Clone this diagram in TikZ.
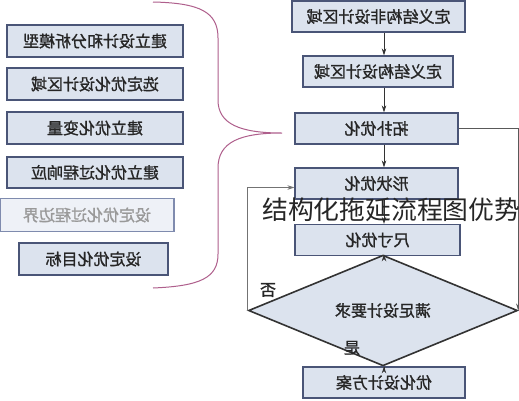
\documentclass[tikz,border=0pt]{standalone}
\usepackage{fontspec}
\usepackage{graphicx}
\newfontfamily\cjk{Noto Sans CJK SC}
\newfontfamily\cjkb[FakeBold=1.3]{Noto Sans CJK SC}
\usetikzlibrary{shapes.geometric,arrows.meta,calc}
\definecolor{boxfill}{HTML}{DCE3EE}
\definecolor{boxline}{HTML}{4A5577}
\definecolor{pale}{HTML}{EEF1F7}
\definecolor{paleline}{HTML}{7F8BAE}
\definecolor{bracec}{RGB}{175,95,140}
\definecolor{arrc}{HTML}{333333}
\newcommand{\mir}[1]{\reflectbox{#1}}
\begin{document}
\begin{tikzpicture}[x=1pt,y=-1pt,
  box/.style={draw=boxline, line width=1.2pt, fill=boxfill, minimum height=31pt,
    inner sep=0pt, font=\cjkb\fontsize{16}{16}\selectfont, text=black!85},
  palebox/.style={box, draw=paleline, fill=pale, text=black!40},
  arr/.style={draw=arrc, line width=0.9pt, -{Stealth[length=7pt,width=4.5pt]}},
  lbl/.style={font=\cjkb\fontsize{16}{16}\selectfont, text=black!85, inner sep=0pt},
  brace/.style={draw=bracec, line width=1pt}
]
\useasboundingbox (0,0) rectangle (519,400);
\fill[white] (0,0) rectangle (519,400);

% left column
\node[box, minimum width=176pt, minimum height=32pt] (l1) at (95,41) {\mir{建立设计和分析模型}};
\node[box, minimum width=176pt, minimum height=32pt] (l2) at (95,84) {\mir{选定优化设计区域}};
\node[box, minimum width=176pt, minimum height=32pt] (l3) at (95,128) {\mir{建立优化变量}};
\node[box, minimum width=176pt, minimum height=31pt] (l4) at (95,172.5) {\mir{建立优化过程响应}};
\node[palebox, minimum width=174pt, minimum height=33pt] (l5) at (87,215) {\mir{设定优化过程边界}};
\node[box, minimum width=149pt, minimum height=32pt] (l6) at (93.5,259) {\mir{设定优化目标}};

% brace
\draw[brace] (153,2) .. controls (200,3) and (218,12) .. (218,38)
  -- (218,100) .. controls (218,124) and (240,133) .. (282,133)
  .. controls (240,133) and (218,142) .. (218,168)
  -- (218,254) .. controls (218,278) and (200,286) .. (153,288);

% right column
\node[box, minimum width=173pt] (b1) at (378.5,16.5) {\mir{定义结构非设计区域}};
\node[box, minimum width=150pt] (b2) at (378,71.5) {\mir{定义结构设计区域}};
\node[box, minimum width=163pt] (b3) at (376.5,128.5) {\mir{拓扑优化}};
\node[box, minimum width=163pt] (b4) at (376.5,183.5) {\mir{形状优化}};
\node[box, minimum width=165pt] (b5) at (377.5,240) {\mir{尺寸优化}};
\node[box, shape=diamond, line width=1.6pt, draw=black!80, minimum width=269pt, minimum height=63pt] (d) at (383,310.5) {\mir{满足设计要求}};
\node[box, minimum width=162pt] (b6) at (384,382.5) {\mir{优化设计方案}};

\coordinate (ax) at (384,0);
\draw[arr] (b1.south -| ax) -- (b2.north -| ax);
\draw[arr] (b2.south -| ax) -- (b3.north -| ax);
\draw[arr] (b3.south -| ax) -- (b4.north -| ax);
\draw[arr] (b4.south -| ax) -- (b5.north -| ax);
\draw[arr] (b5.south -| ax) -- (d.north -| ax);
\draw[arr] (d.south -| ax) -- (b6.north -| ax);

\draw[arr, draw=black!65] (b3.east) -| (d.east);
\coordinate (nin) at ($(b4.west)+(0,4)$);
\draw[arr, draw=black!55] (d.west) |- (nin);

\node[lbl] (no) at (268,290) {\mir{否}};
\node[lbl] (yes) at (352,348) {\mir{是}};

% overlay text
\node[anchor=west, inner sep=0pt, font=\cjk\fontsize{25.8}{25.8}\selectfont, text=black!85] (wm) at (262,210) {结构化拖延流程图优势};
\end{tikzpicture}
\end{document}
